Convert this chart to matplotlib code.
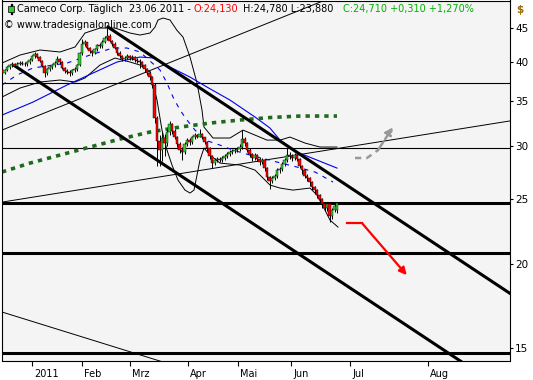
import matplotlib
matplotlib.use("Agg")
import matplotlib.pyplot as plt
from matplotlib.ticker import FixedLocator, FixedFormatter, NullLocator
from matplotlib.transforms import ScaledTranslation
from matplotlib.patches import Rectangle

# bar index 0 = first trading day of 2011
first_bar = -12

opens = [38.9, 38.6, 38.9, 39.3, 39.6, 39.7, 39.5, 39.8, 39.9, 39.8, 39.7, 40.0,
         40.3, 40.8, 41.1, 40.7, 40.2, 39.5, 38.5, 39.0, 39.3, 39.6, 39.9, 40.4,
         40.0, 39.2, 38.8, 38.7, 38.5, 38.9, 39.0, 39.6, 41.2, 42.6, 42.8, 42.0,
         41.5, 41.3, 41.8, 42.4, 42.2, 42.9, 43.4, 43.8, 43.0, 42.6, 42.0, 41.3,
         40.9, 40.4, 40.6, 40.8, 40.5, 40.7, 40.3, 40.2, 40.0, 39.6, 39.0, 38.6,
         38.0, 37.0, 33.0, 30.5, 29.6, 30.8, 30.3, 31.5, 32.4, 31.6, 31.0, 30.2,
         29.6, 29.4, 30.2, 30.6, 30.4, 30.9, 31.2, 31.0, 31.3, 30.9, 30.4, 29.8,
         29.0, 28.3, 28.6, 28.7, 28.6, 28.8, 29.0, 29.2, 29.4, 29.5, 29.6, 29.7,
         29.9, 30.7, 30.3, 29.6, 29.2, 28.8, 29.1, 28.7, 28.4, 28.6, 27.8, 27.0,
         26.6, 26.9, 27.1, 27.6, 27.7, 28.2, 28.6, 29.1, 29.0, 28.8, 29.1, 28.7,
         28.0, 27.6, 27.1, 26.9, 26.5, 26.1, 25.8, 25.4, 25.0, 24.6, 24.3, 24.6,
         23.6, 24.1, 24.13]
closes = [38.6, 38.9, 39.3, 39.6, 39.7, 39.5, 39.8, 39.9, 39.8, 39.7, 40.0, 40.3,
          40.8, 41.1, 40.7, 40.2, 39.5, 38.5, 39.0, 39.3, 39.6, 39.9, 40.4, 40.0,
          39.2, 38.8, 38.7, 38.5, 38.9, 39.0, 39.6, 41.2, 42.6, 42.8, 42.0, 41.5,
          41.3, 41.8, 42.4, 42.2, 42.9, 43.4, 43.8, 43.0, 42.6, 42.0, 41.3, 40.9,
          40.4, 40.6, 40.8, 40.5, 40.7, 40.3, 40.2, 40.0, 39.6, 39.0, 38.6, 38.0,
          37.0, 33.0, 30.5, 29.6, 30.8, 30.3, 31.5, 32.4, 31.6, 31.0, 30.2, 29.6,
          29.4, 30.2, 30.6, 30.4, 30.9, 31.2, 31.0, 31.3, 30.9, 30.4, 29.8, 29.0,
          28.3, 28.6, 28.7, 28.6, 28.8, 29.0, 29.2, 29.4, 29.5, 29.6, 29.7, 29.9,
          30.7, 30.3, 29.6, 29.2, 28.8, 29.1, 28.7, 28.4, 28.6, 27.8, 27.0, 26.6,
          26.9, 27.1, 27.6, 27.7, 28.2, 28.6, 29.1, 29.0, 28.8, 29.1, 28.7, 28.0,
          27.6, 27.1, 26.9, 26.5, 26.1, 25.8, 25.4, 25.0, 24.6, 24.3, 24.6, 23.6,
          24.1, 24.4, 24.71]
highs = [39.1, 39.1, 39.5, 39.8, 40.0, 39.9, 40.0, 40.2, 40.1, 40.0, 40.2, 40.5,
         41.0, 41.4, 41.3, 40.8, 40.3, 39.6, 39.2, 39.5, 39.8, 40.1, 40.8, 40.5,
         40.1, 39.4, 39.0, 38.9, 39.1, 39.3, 39.8, 41.4, 43.3, 43.2, 42.9, 42.1,
         41.7, 42.0, 42.6, 42.7, 43.2, 43.8, 45.0, 44.0, 43.2, 42.8, 42.1, 41.5,
         41.0, 40.9, 41.1, 41.0, 41.0, 40.8, 40.6, 40.4, 40.2, 39.7, 39.2, 38.8,
         38.2, 37.2, 33.2, 31.2, 31.5, 31.3, 31.8, 32.7, 32.5, 31.8, 31.1, 30.4,
         29.9, 30.4, 30.8, 30.8, 31.1, 31.4, 31.3, 31.8, 31.4, 31.0, 30.5, 29.9,
         29.1, 28.8, 28.9, 28.9, 29.0, 29.2, 29.4, 29.6, 29.7, 29.8, 29.9, 30.2,
         31.7, 30.9, 30.4, 29.8, 29.3, 29.3, 29.2, 28.9, 28.8, 28.7, 27.9, 27.1,
         27.1, 27.3, 27.8, 27.9, 28.4, 28.8, 29.8, 29.4, 29.2, 29.3, 29.2, 28.8,
         28.1, 27.7, 27.3, 27.0, 26.6, 26.2, 25.9, 25.5, 25.1, 24.8, 24.8, 24.7,
         24.3, 24.6, 24.78]
lows = [38.4, 38.4, 38.8, 39.1, 39.4, 39.3, 39.3, 39.6, 39.6, 39.5, 39.5, 39.8,
        40.1, 40.6, 40.5, 40.0, 39.3, 38.0, 38.3, 38.8, 39.1, 39.4, 39.7, 39.8,
        39.0, 38.5, 38.4, 38.2, 38.3, 38.7, 38.8, 39.5, 41.0, 42.3, 41.8, 41.2,
        40.9, 41.1, 41.6, 42.0, 42.0, 42.7, 43.2, 42.8, 42.3, 41.8, 41.0, 40.6,
        40.1, 40.2, 40.4, 40.3, 40.3, 40.0, 39.9, 39.2, 39.3, 38.7, 38.3, 37.6,
        36.6, 32.5, 28.0, 28.0, 28.5, 29.0, 30.0, 31.2, 31.3, 30.7, 29.9, 29.3,
        28.6, 29.2, 30.0, 30.1, 30.2, 30.7, 30.8, 30.9, 30.7, 30.2, 29.5, 28.7,
        27.8, 28.1, 28.4, 28.4, 28.4, 28.6, 28.8, 29.0, 29.2, 29.3, 29.4, 29.5,
        29.7, 30.0, 29.4, 28.9, 28.5, 28.6, 28.5, 28.1, 28.2, 27.5, 26.7, 25.9,
        26.4, 26.7, 26.9, 27.4, 27.5, 28.0, 28.4, 28.7, 28.5, 28.6, 28.5, 27.8,
        27.3, 26.9, 26.6, 26.2, 25.8, 25.5, 25.1, 24.7, 24.3, 24.0, 24.0, 23.1,
        23.4, 23.9, 23.88]

# indicator curves: (bar index, price)
upper_band_x = [-12, -4.8, 3.2, 11.2, 17.2, 21.2, 27.2, 33.2, 39.2, 43.2, 47.2, 49.2,
                50.4, 52.4, 55.2, 58, 60.4, 63.2, 66, 68, 68.8, 72.4, 79.2, 84.4,
                89.2, 94, 99.2, 103.2, 109.2, 115.2, 122]
upper_band_y = [39.87, 40.98, 41.69, 41.41, 42.12, 44.19, 44.95, 44.95, 44.19, 43.89,
                44.19, 45.1, 46.21, 46.52, 46.21, 44.59, 43.59, 40.70, 37.23, 33.94,
                32.02, 30.84, 30.84, 31.69, 31.15, 30.62, 30.62, 30.94, 30.31, 29.90,
                29.90]
lower_band_x = [-12, -4.8, 3.2, 11.2, 17.2, 21.2, 27.2, 33.2, 39.2, 43.2, 47.2, 50,
                52, 54, 56, 58.4, 61.2, 63.2, 64.8, 66, 67.2, 68.8, 71.2, 75.2, 83.2,
                89.2, 95.2, 99.2, 104.4, 111.2, 114, 117.2, 119.2, 122.4]
lower_band_y = [35.49, 36.60, 37.36, 37.62, 37.36, 37.88, 39.60, 40.56, 40.01, 39.60,
                38.66, 35.12, 31.69, 29.59, 28.11, 26.70, 25.80, 25.54, 25.80, 27.16,
                28.60, 29.80, 29.09, 28.30, 28.11, 27.63, 26.25, 25.98, 25.80, 25.98,
                25.36, 24.09, 23.28, 22.73]
ma20_x = [-12, -6, 0.4, 14, 23.2, 32.4, 38, 43.2, 51.2, 54, 56.4, 59.2, 62, 65.2,
          69.2, 75.2, 80.4, 87.2, 98, 106, 113.2, 120.4]
ma20_y = [36.98, 38.27, 39.20, 39.87, 40.98, 41.98, 41.98, 41.41, 38.93, 37.23, 35.49,
          33.94, 32.80, 31.69, 30.62, 30.10, 29.59, 29.09, 28.40, 27.92, 27.45, 26.52]
ma50_x = [-12, 0.4, 14, 24.4, 34, 43.2, 49.2, 55.2, 63.2, 70, 79.2, 89.2, 95.2, 99.2,
          106, 122]
ma50_y = [33.36, 34.88, 36.98, 38.53, 40.01, 40.70, 40.56, 39.33, 38.00, 36.72, 35.12,
          33.14, 31.91, 30.62, 29.39, 27.82]
ma200_x = [-12, -0.8, 11.2, 23.2, 35.2, 47.2, 59.2, 71.2, 83.2, 95.2, 107.2, 122]
ma200_y = [27.45, 28.30, 29.09, 29.90, 30.73, 31.48, 32.02, 32.46, 32.80, 33.08, 33.25,
           33.25]

# drawn trend lines and channels
channel_top = ([30.4, 191.0], [45.1, 18.13])
channel_bottom = ([-6.8, 175.0], [39.47, 14.07])
thin_line_a = ([-12, 123.2], [31.69, 50.5])
thin_line_b = ([-12, 191.0], [24.76, 32.69])
thin_line_c = ([-12, 55.2], [16.99, 14.21])
h_thin = [37.23, 29.80]
h_thick = [24.68, 20.79, 14.77]
red_arrow = ([126, 132, 149.9], [23.04, 23.04, 19.28])
gray_arrow = ([129.2, 134, 138.4, 144.4], [28.80, 28.80, 29.59, 32.02])

month_pos = [0, 20, 39.2, 62.4, 82.4, 103.6, 127.2, 158.4]
month_labels = ["2011", "Feb", "Mrz", "Apr", "Mai", "Jun", "Jul", "Aug"]
price_ticks = [15, 20, 25, 30, 35, 40, 45]

W, H = 533, 380
fig = plt.figure(figsize=(W / 100, H / 100), dpi=100)
ax = fig.add_axes([1.5 / W, 1 - 360.5 / H, 508 / W, 360 / H])
ax.set_facecolor("#f4f4f4")
ax.set_yscale("log")
ax.set_ylim(14.39, 49.40)
ax.set_xlim(-12.2, 191.0)

# horizontals and trend lines
for p in h_thin:
    ax.axhline(p, color="black", lw=0.8, zorder=1)
for p in h_thick:
    ax.axhline(p, color="black", lw=2.2, zorder=1)
for xs, ys in [thin_line_a, thin_line_b, thin_line_c]:
    ax.plot(xs, ys, color="black", lw=0.7, zorder=1)

# indicators
ax.plot(upper_band_x, upper_band_y, color="black", lw=0.7, zorder=2)
ax.plot(lower_band_x, lower_band_y, color="black", lw=0.7, zorder=2)
ax.plot(ma50_x, ma50_y, color="#0000ee", lw=0.8, zorder=2)
ax.plot(ma20_x, ma20_y, color="#0000ee", lw=0.8, ls=(0, (4, 5)), zorder=2)
ax.plot(ma200_x, ma200_y, color="#1e6b1e", lw=2.6, ls=(0, (1.2, 1.4)), zorder=2)

# channel
for xs, ys in [channel_top, channel_bottom]:
    ax.plot(xs, ys, color="black", lw=2.2, zorder=2)

# candles
for k in range(len(closes)):
    x = first_bar + k
    o, c = opens[k], closes[k]
    ax.vlines(x, lows[k], highs[k], color="black", lw=0.7, zorder=3)
    col = "#33cc33" if c >= o else "#ff0000"
    lo, hi = min(o, c), max(o, c)
    if hi - lo < 0.05:
        hi = lo + 0.05
    ax.bar(x, hi - lo, bottom=lo, width=0.9, color=col, edgecolor="black",
           linewidth=0.3, zorder=4)

# forecast arrows
ax.plot(red_arrow[0][:-1], red_arrow[1][:-1], color="#ff0000", lw=1.6, zorder=5)
ax.annotate("", xy=(red_arrow[0][-1], red_arrow[1][-1]),
            xytext=(red_arrow[0][-2], red_arrow[1][-2]),
            arrowprops=dict(arrowstyle="-|>", color="#ff0000", lw=1.6,
                            mutation_scale=11, shrinkA=0, shrinkB=0), zorder=5)
ax.plot(gray_arrow[0][:-1], gray_arrow[1][:-1], color="#999999", lw=1.8,
        ls=(0, (2.5, 2)), zorder=5)
ax.annotate("", xy=(gray_arrow[0][-1], gray_arrow[1][-1]),
            xytext=(gray_arrow[0][-2], gray_arrow[1][-2]),
            arrowprops=dict(arrowstyle="-|>", color="#999999", lw=1.8,
                            linestyle="--", mutation_scale=11, shrinkA=0, shrinkB=0),
            zorder=5)

# axes
for s in ax.spines.values():
    s.set_color("black")
    s.set_linewidth(0.8)
ax.yaxis.tick_right()
ax.yaxis.set_major_locator(FixedLocator(price_ticks))
ax.yaxis.set_major_formatter(FixedFormatter([str(t) for t in price_ticks]))
ax.yaxis.set_minor_locator(NullLocator())
ax.tick_params(axis="y", length=2.5, pad=1.5, labelsize=7.5, colors="black")
ax.xaxis.set_major_locator(FixedLocator(month_pos))
ax.xaxis.set_major_formatter(FixedFormatter(month_labels))
ax.tick_params(axis="x", length=3.5, pad=2.5, labelsize=7, colors="black")
shift = ScaledTranslation(2 / 100, 0, fig.dpi_scale_trans)
for lab in ax.get_xticklabels():
    lab.set_horizontalalignment("left")
    lab.set_transform(lab.get_transform() + shift)

# header
def px(x, y):
    return x / W, 1 - y / H

fs = 7.0
fig.text(*px(17, 9), "Cameco Corp. Täglich", fontsize=fs, va="center")
fig.text(*px(129, 9), "23.06.2011 -", fontsize=fs, va="center")
fig.text(*px(194, 9), "O:24,130", fontsize=fs, va="center", color="#ff0000")
fig.text(*px(243, 9), "H:24,780 L:23,880", fontsize=fs, va="center")
fig.text(*px(343, 9), "C:24,710 +0,310 +1,270%", fontsize=fs, va="center",
         color="#00b000")
fig.text(*px(4, 25), "\u00a9 www.tradesignalonline.com", fontsize=fs, va="center")
fig.text(*px(516, 10), "$", fontsize=7.5, va="center", color="#9a6a00",
         fontweight="bold")
fig.add_artist(Rectangle(px(10.5, 14), 1 / W, 10 / H, color="black",
                         transform=fig.transFigure))
fig.add_artist(Rectangle(px(8, 12), 6 / W, 6 / H, facecolor="#33cc33",
                         edgecolor="black", lw=0.5, transform=fig.transFigure))

fig.savefig("out.png", dpi=100)
